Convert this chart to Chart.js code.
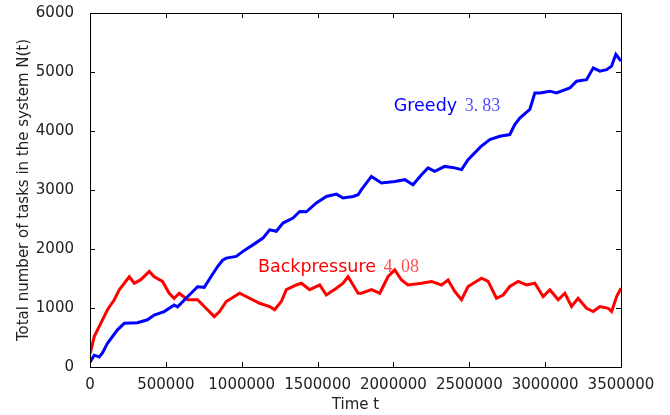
<!DOCTYPE html>
<html>
<head>
<meta charset="utf-8">
<script src="https://cdn.jsdelivr.net/npm/chart.js@4.4.1/dist/chart.umd.min.js"></script>
<style>
  html, body { margin: 0; padding: 0; background: #fff; }
  #wrap { width: 670px; height: 415px; }
</style>
</head>
<body>
<div id="wrap"><canvas id="chart"></canvas></div>
<script>
// values
const greedyTime = [0, 28000, 61000, 82000, 115000, 181000, 226000, 313000, 379000, 423000,
  489000, 555000, 577000, 643000, 709000, 753000, 797000, 841000, 874000, 898000,
  964000, 1008000, 1074000, 1140000, 1184000, 1228000, 1272000, 1338000, 1382000, 1426000,
  1492000, 1558000, 1624000, 1668000, 1734000, 1767000, 1789000, 1855000, 1921000, 2009000,
  2075000, 2129000, 2185000, 2228000, 2272000, 2338000, 2404000, 2449000, 2492000, 2574000,
  2635000, 2701000, 2767000, 2800000, 2833000, 2899000, 2932000, 2965000, 3031000, 3075000,
  3163000, 3207000, 3273000, 3317000, 3361000, 3405000, 3438000, 3466000, 3500000];
const greedyN = [80, 200, 170, 240, 400, 630, 740, 750, 800, 880,
  940, 1050, 1020, 1190, 1360, 1350, 1530, 1700, 1810, 1845,
  1875, 1960, 2070, 2185, 2325, 2300, 2440, 2525, 2635, 2630,
  2780, 2890, 2930, 2865, 2890, 2920, 3005, 3230, 3120, 3145,
  3175, 3090, 3260, 3375, 3315, 3400, 3375, 3345, 3515, 3730,
  3855, 3910, 3940, 4110, 4220, 4365, 4645, 4645, 4675, 4645,
  4730, 4845, 4870, 5070, 5015, 5040, 5100, 5300, 5185];

const backTime = [0, 28000, 71000, 115000, 160000, 193000, 226000, 259000, 292000, 335000,
  391000, 423000, 478000, 522000, 555000, 588000, 643000, 709000, 753000, 819000,
  854000, 898000, 986000, 1052000, 1118000, 1184000, 1217000, 1261000, 1294000, 1360000,
  1393000, 1448000, 1514000, 1558000, 1624000, 1668000, 1701000, 1734000, 1767000, 1789000,
  1855000, 1910000, 1964000, 2009000, 2053000, 2096000, 2185000, 2251000, 2317000, 2360000,
  2404000, 2449000, 2492000, 2581000, 2624000, 2679000, 2723000, 2767000, 2822000, 2877000,
  2932000, 2987000, 3031000, 3086000, 3130000, 3174000, 3217000, 3273000, 3317000, 3361000,
  3416000, 3438000, 3471000, 3500000];
const backN = [220, 515, 740, 970, 1140, 1310, 1420, 1530, 1420, 1480,
  1620, 1530, 1450, 1250, 1165, 1250, 1140, 1140, 1025, 855,
  940, 1110, 1250, 1165, 1080, 1025, 970, 1110, 1310, 1390,
  1420, 1310, 1390, 1220, 1335, 1420, 1530, 1390, 1250, 1250,
  1310, 1250, 1530, 1645, 1475, 1390, 1420, 1450, 1390, 1475,
  1280, 1140, 1365, 1505, 1450, 1165, 1220, 1365, 1450, 1390,
  1420, 1195, 1310, 1140, 1250, 1025, 1165, 995, 940, 1025,
  995, 940, 1195, 1335];

const xTicksMax = 3500000;
const yTicksMax = 6000;

// annotation anchors (data coords) + text pieces
const notes = [
  { t: 2002000, n: 4335, word: "Greedy", num: ["3.", "83"], color: "0,0,255" },
  { t: 1107000, n: 1618, word: "Backpressure", num: ["4.", "08"], color: "255,0,0" }
];

const toPoints = (xs, ys) => xs.map((v, i) => ({ x: v, y: ys[i] }));

const frame = {
  id: "frame",
  afterDatasetsDraw(chart) {
    const { ctx, chartArea: a, scales: { x, y } } = chart;
    ctx.save();
    ctx.strokeStyle = "#000";
    ctx.lineWidth = 1;
    const seg = (x1, y1, x2, y2) => {
      ctx.beginPath(); ctx.moveTo(x1, y1); ctx.lineTo(x2, y2); ctx.stroke();
    };
    x.ticks.forEach((t) => {
      const px = Math.round(x.getPixelForValue(t.value)) + 0.5;
      seg(px, a.bottom, px, a.bottom - 5);
      seg(px, a.top, px, a.top + 5);
    });
    y.ticks.forEach((t) => {
      const py = Math.round(y.getPixelForValue(t.value)) + 0.5;
      seg(a.left, py, a.left + 5, py);
      seg(a.right, py, a.right - 5, py);
    });
    ctx.strokeRect(Math.round(a.left) + 0.5, Math.round(a.top) + 0.5,
      Math.round(a.right - a.left), Math.round(a.bottom - a.top));

    // text labels
    notes.forEach((nt) => {
      let px = x.getPixelForValue(nt.t);
      const py = y.getPixelForValue(nt.n);
      ctx.textBaseline = "alphabetic";
      ctx.textAlign = "left";
      ctx.font = "17.5px 'DejaVu Sans'";
      ctx.fillStyle = "rgb(" + nt.color + ")";
      ctx.fillText(nt.word, px, py);
      px += ctx.measureText(nt.word + " ").width + 2;
      ctx.font = "18px 'Liberation Serif'";
      ctx.fillStyle = "rgba(" + nt.color + ",0.7)";
      ctx.fillText(nt.num[0], px, py);
      px += ctx.measureText(nt.num[0]).width + 4;
      ctx.fillText(nt.num[1], px, py);
    });
    ctx.restore();
  }
};

const tickFont = { family: "'DejaVu Sans'", size: 15 };

new Chart(document.getElementById("chart"), {
  type: "line",
  data: {
    datasets: [
      {
        label: "Greedy",
        data: toPoints(greedyTime, greedyN),
        borderColor: "#0000ff",
        borderWidth: 3,
        pointRadius: 0,
        tension: 0
      },
      {
        label: "Backpressure",
        data: toPoints(backTime, backN),
        borderColor: "#ff0000",
        borderWidth: 3,
        pointRadius: 0,
        tension: 0
      }
    ]
  },
  options: {
    responsive: true,
    maintainAspectRatio: false,
    animation: false,
    layout: { padding: { top: 13, right: 49, left: 0, bottom: 0 } },
    plugins: { legend: { display: false }, tooltip: { enabled: false } },
    scales: {
      x: {
        type: "linear",
        min: 0,
        max: xTicksMax,
        grid: { display: false },
        border: { display: false },
        ticks: {
          stepSize: 500000,
          autoSkip: false,
          maxRotation: 0,
          padding: 1,
          color: "#222",
          font: tickFont,
          callback: (v) => String(v)
        },
        title: {
          display: true,
          text: "Time t",
          color: "#222",
          font: { family: "'DejaVu Sans'", size: 15 },
          padding: { top: 0, bottom: 1 }
        },
        afterFit: (s) => { s.height = 48; s.paddingLeft = 0; s.paddingRight = 0; }
      },
      y: {
        min: 0,
        max: yTicksMax,
        grid: { display: false },
        border: { display: false },
        ticks: {
          stepSize: 1000,
          padding: 8,
          color: "#222",
          font: tickFont,
          callback: (v) => String(v)
        },
        title: {
          display: true,
          text: "Total number of tasks in the system N(t)",
          color: "#222",
          font: { family: "'DejaVu Sans'", size: 15 },
          padding: { top: 15, bottom: 0 }
        },
        afterFit: (s) => { s.width = 90; s.paddingTop = 0; s.paddingBottom = 0; }
      }
    }
  },
  plugins: [frame]
});
</script>
</body>
</html>
